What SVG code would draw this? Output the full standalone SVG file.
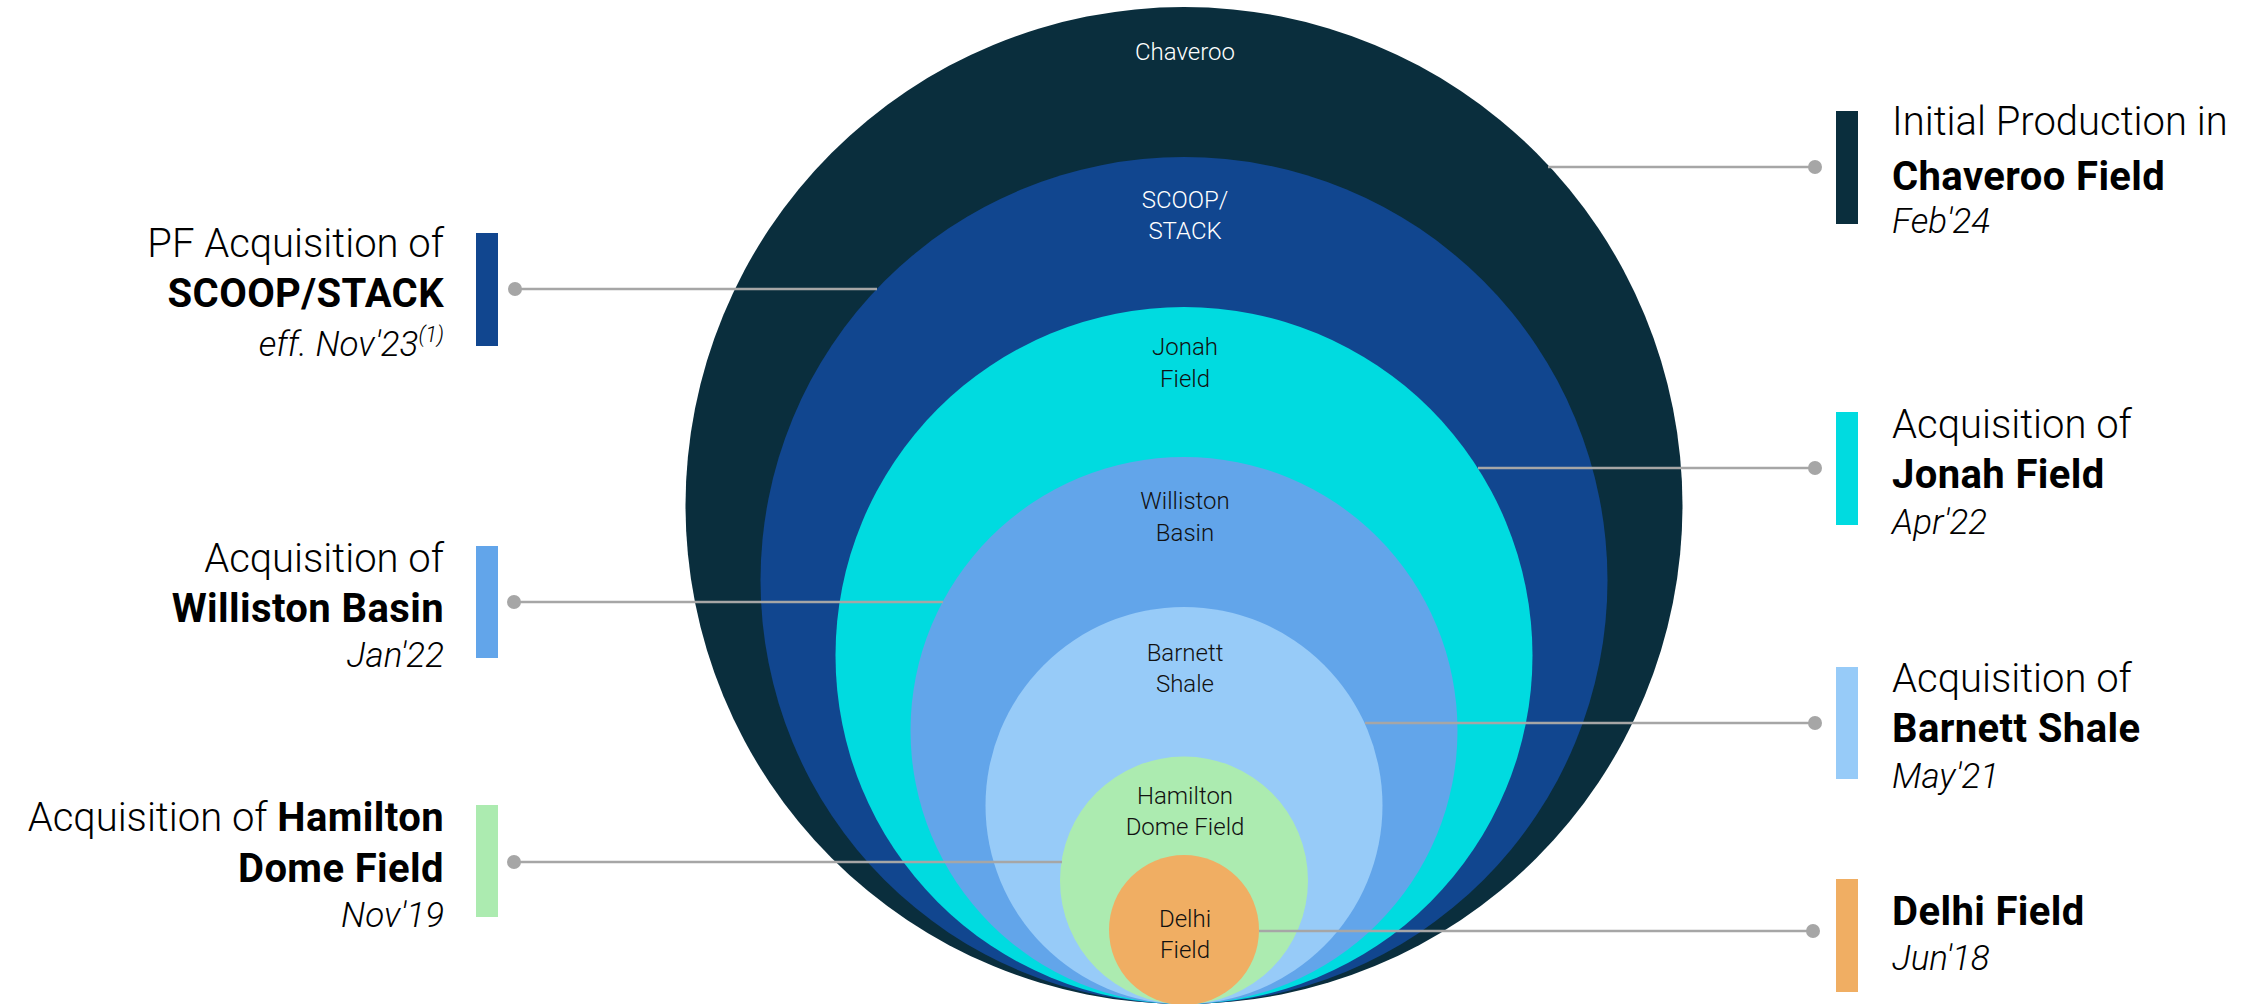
<svg xmlns="http://www.w3.org/2000/svg" width="2259" height="1004" viewBox="0 0 2259 1004">
<style>
.t{font-family:Roboto,"Liberation Sans",sans-serif;font-size:40px;font-weight:300;fill:#000}
.b{font-weight:700;letter-spacing:0.4px}
.i{font-style:italic;font-size:35px}
.L{text-anchor:end}
.c{font-family:Roboto,"Liberation Sans",sans-serif;font-size:24px;font-weight:300;text-anchor:middle}
.w{fill:#fff}
.k{fill:#111}
.con{stroke:#a6a6a6;stroke-width:2.5;fill:none}
.dot{fill:#a6a6a6}
</style>
<rect width="2259" height="1004" fill="#fff"/>
<g id="chaveroo">
<circle cx="1184" cy="505.5" r="498.5" fill="#0a2e3d"/>
<text class="c w" x="1185" y="60">Chaveroo</text>
<rect x="1836" y="111" width="22" height="113" fill="#0a2e3d"/>
<text class="t" x="1892" y="135">Initial Production in</text>
<text class="t b" x="1892" y="190">Chaveroo Field</text>
<text class="t i" x="1892" y="233">Feb'24</text>
</g>
<g id="scoop-stack">
<circle cx="1184" cy="580.5" r="423.5" fill="#11468f"/>
<text class="c w" x="1185" y="208">SCOOP/</text>
<text class="c w" x="1185" y="239">STACK</text>
<rect x="476" y="233" width="22" height="113" fill="#11468f"/>
<text class="t L" x="444" y="257">PF Acquisition of</text>
<text class="t b L" x="444" y="307">SCOOP/STACK</text>
<text class="t i L" x="444" y="356">eff. Nov'23<tspan font-size="22" dy="-14">(1)</tspan></text>
</g>
<g id="jonah">
<circle cx="1184" cy="655.5" r="348.5" fill="#00dbe0"/>
<text class="c k" x="1185" y="355">Jonah</text>
<text class="c k" x="1185" y="387">Field</text>
<rect x="1836" y="412" width="22" height="113" fill="#00dbe0"/>
<text class="t" x="1892" y="438">Acquisition of</text>
<text class="t b" x="1892" y="488">Jonah Field</text>
<text class="t i" x="1892" y="534">Apr'22</text>
</g>
<g id="williston">
<circle cx="1184" cy="730.5" r="273.5" fill="#62a5ea"/>
<text class="c k" x="1185" y="509">Williston</text>
<text class="c k" x="1185" y="541">Basin</text>
<rect x="476" y="546" width="22" height="112" fill="#62a5ea"/>
<text class="t L" x="444" y="572">Acquisition of</text>
<text class="t b L" x="444" y="622">Williston Basin</text>
<text class="t i L" x="444" y="667">Jan'22</text>
</g>
<g id="barnett">
<circle cx="1184" cy="805.5" r="198.5" fill="#97cbf8"/>
<text class="c k" x="1185" y="661">Barnett</text>
<text class="c k" x="1185" y="692">Shale</text>
<rect x="1836" y="667" width="22" height="112" fill="#97cbf8"/>
<text class="t" x="1892" y="692">Acquisition of</text>
<text class="t b" x="1892" y="742">Barnett Shale</text>
<text class="t i" x="1892" y="788">May'21</text>
</g>
<g id="hamilton">
<circle cx="1184" cy="880.5" r="124" fill="#acebb0"/>
<text class="c k" x="1185" y="804">Hamilton</text>
<text class="c k" x="1185" y="835">Dome Field</text>
<rect x="476" y="805" width="22" height="112" fill="#acebb0"/>
<text class="t L" x="444" y="831">Acquisition of <tspan class="b">Hamilton</tspan></text>
<text class="t b L" x="444" y="882">Dome Field</text>
<text class="t i L" x="444" y="927">Nov'19</text>
</g>
<g id="delhi">
<circle cx="1184" cy="930" r="75" fill="#f0ae63"/>
<text class="c k" x="1185" y="927">Delhi</text>
<text class="c k" x="1185" y="958">Field</text>
<rect x="1836" y="879" width="22" height="113" fill="#f0ae63"/>
<text class="t b" x="1892" y="925">Delhi Field</text>
<text class="t i" x="1892" y="970">Jun'18</text>
</g>
<g id="connectors">
<path class="con" d="M515,289H877"/><circle class="dot" cx="515" cy="289" r="7"/>
<path class="con" d="M514,602H943"/><circle class="dot" cx="514" cy="602" r="7"/>
<path class="con" d="M514,862H1062"/><circle class="dot" cx="514" cy="862" r="7"/>
<path class="con" d="M1548,167H1815"/><circle class="dot" cx="1815" cy="167" r="7"/>
<path class="con" d="M1478,468H1815"/><circle class="dot" cx="1815" cy="468" r="7"/>
<path class="con" d="M1365,723H1815"/><circle class="dot" cx="1815" cy="723" r="7"/>
<path class="con" d="M1259,931H1813"/><circle class="dot" cx="1813" cy="931" r="7"/>
</g>
</svg>
